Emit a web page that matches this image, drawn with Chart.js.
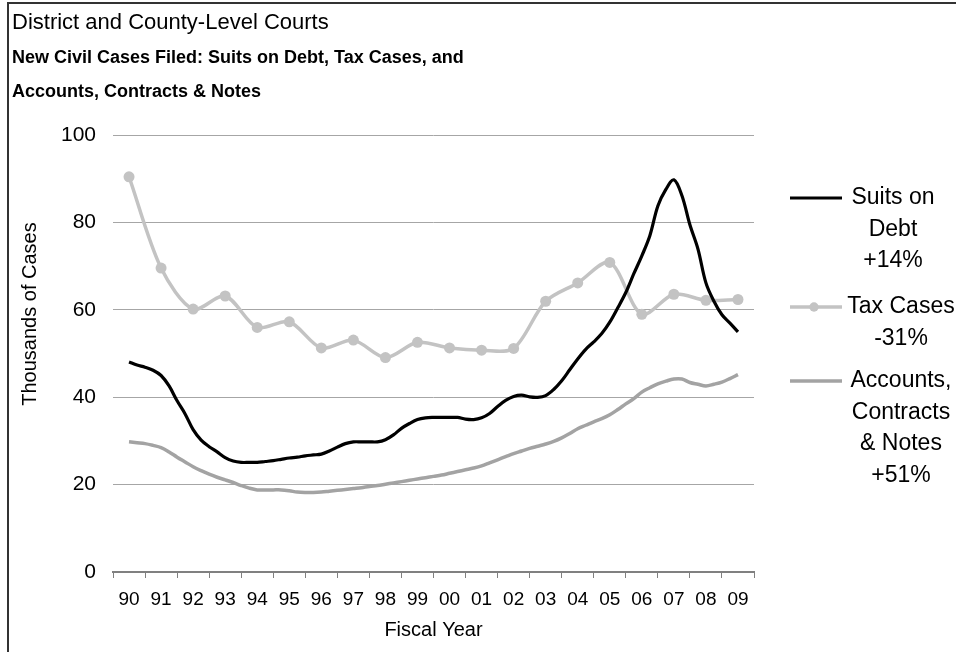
<!DOCTYPE html>
<html><head><meta charset="utf-8">
<script src="https://cdn.jsdelivr.net/npm/chart.js@4.4.1/dist/chart.umd.min.js"></script>
<style>
html,body{margin:0;padding:0;background:#fff;}
#wrap{position:relative;width:956px;height:652px;overflow:hidden;background:#fff;}
#frame{position:absolute;left:7px;top:2px;right:-4px;bottom:-4px;border-left:2px solid #333;border-top:2px solid #333;pointer-events:none;}
</style></head><body>
<div id="wrap"><canvas id="c" width="956" height="652"></canvas><div id="frame"></div></div>
<script>
const FONT = "'Liberation Sans', Arial, Helvetica, sans-serif";

const fiscalYears = ['90','91','92','93','94','95','96','97','98','99','00','01','02','03','04','05','06','07','08','09'];

// Quarterly readings (FY90 Q1 ... FY09 Q1), thousands of cases
const suitsOnDebt = [
  48.1,47.4,46.9,46.2, 45.0,42.6,39.2,36.2, 32.6,30.2,28.7,27.5, 26.2,25.4,25.1,25.1,
  25.1,25.3,25.5,25.8, 26.1,26.3,26.6,26.8, 27.0,27.7,28.6,29.4, 29.8,29.8,29.8,29.8,
  30.3,31.4,32.9,34.0, 34.9,35.3,35.4,35.4, 35.4,35.4,35.0,34.9, 35.3,36.3,37.9,39.3,
  40.2,40.5,40.1,40.0, 40.4,41.8,43.8,46.3, 48.8,51.0,52.7,54.6, 57.2,60.5,64.0,68.3,
  72.4,77.0,83.8,87.6, 89.8,86.2,79.5,74.0, 66.2,62.0,58.9,57.0, 55.0
];
const accountsContractsNotes = [
  29.8,29.6,29.4,29.0, 28.5,27.5,26.3,25.2, 24.1,23.2,22.4,21.7, 21.1,20.5,19.8,19.2,
  18.8,18.8,18.8,18.8, 18.6,18.3,18.2,18.2, 18.3,18.5,18.7,18.9, 19.1,19.3,19.6,19.8,
  20.1,20.4,20.7,21.0, 21.3,21.6,21.9,22.2, 22.6,23.0,23.4,23.8, 24.3,25.0,25.7,26.4,
  27.1,27.7,28.3,28.8, 29.3,29.9,30.7,31.7, 32.8,33.6,34.4,35.1, 36.0,37.2,38.5,39.7,
  41.2,42.2,43.1,43.7, 44.2,44.2,43.4,43.0, 42.6,43.0,43.5,44.3, 45.2
];
// Annual readings
const taxCases = [90.5,69.6,60.2,63.2,56.0,57.3,51.3,53.1,49.1,52.6,51.3,50.8,51.2,62.0,66.2,70.9,59.0,63.6,62.2,62.4];

const yTicks = [0,20,40,60,80,100];
const seriesNames = ['Suits on Debt','Tax Cases','Accounts, Contracts & Notes'];
const legendLines = [['Suits on','Debt','+14%'],['Tax Cases','-31%'],['Accounts,','Contracts','& Notes','+51%']];

Chart.defaults.font.family = FONT;
Chart.defaults.color = '#000';

const quarterly = arr => arr.map((v,i)=>({x:i/4, y:v}));
const annual = arr => arr.map((v,i)=>({x:i, y:v}));

const legendPlugin = {
  id: 'sideLegend',
  afterDraw(chart){
    const ctx = chart.ctx;
    const ds = chart.data.datasets;
    const slots = [{y:198, cx:893},{y:307, cx:901},{y:381, cx:901}];
    const gap = 31.5;
    ctx.save();
    ds.forEach((d,i)=>{
      const s = slots[i];
      ctx.strokeStyle = d.borderColor;
      ctx.lineWidth = d.borderWidth;
      ctx.beginPath(); ctx.moveTo(790, s.y); ctx.lineTo(842, s.y); ctx.stroke();
      if (d.pointRadius > 0){
        ctx.fillStyle = d.pointBackgroundColor;
        ctx.beginPath(); ctx.arc(814, s.y, d.pointRadius*0.85, 0, Math.PI*2); ctx.fill();
      }
      ctx.fillStyle = '#000';
      ctx.font = '23px ' + FONT;
      ctx.textAlign = 'center';
      ctx.textBaseline = 'middle';
      legendLines[i].forEach((t,k)=> ctx.fillText(t, s.cx, s.y + k*gap));
    });
    // y-axis title
    ctx.translate(30, 314);
    ctx.rotate(-Math.PI/2);
    ctx.font = '20px ' + FONT;
    ctx.textAlign = 'center';
    ctx.textBaseline = 'middle';
    ctx.fillText('Thousands of Cases', 0, 0);
    ctx.restore();
  }
};

new Chart(document.getElementById('c'), {
  type: 'line',
  data: {
    labels: fiscalYears,
    datasets: [
      {label: seriesNames[0], data: quarterly(suitsOnDebt), xAxisID:'xl', borderColor:'#000000', borderWidth:3.2, pointRadius:0, tension:0.35, fill:false},
      {label: seriesNames[1], data: annual(taxCases), xAxisID:'xl', borderColor:'#c3c3c3', backgroundColor:'#c3c3c3', pointBackgroundColor:'#c3c3c3', pointBorderWidth:0, borderWidth:3.5, pointRadius:5.5, tension:0.3, fill:false},
      {label: seriesNames[2], data: quarterly(accountsContractsNotes), xAxisID:'xl', borderColor:'#a3a3a3', borderWidth:3.5, pointRadius:0, tension:0.35, fill:false}
    ]
  },
  options: {
    responsive: false,
    devicePixelRatio: 1,
    animation: false,
    layout: {padding: {left: 12, right: 202, top: 0, bottom: 0}},
    plugins: {
      legend: {display: false},
      tooltip: {enabled: false},
      title: {display: true, text: 'District and County-Level Courts', align: 'start', color:'#000',
              font: {size: 22, weight: 'normal', lineHeight: 1.15}, padding: {top: 10, bottom: 0}},
      subtitle: {display: true, text: ['New Civil Cases Filed: Suits on Debt, Tax Cases, and', 'Accounts, Contracts & Notes'],
              align: 'start', color:'#000', font: {size: 18, weight: 'bold', lineHeight: 34/18}, padding: {top: 6, bottom: 26}}
    },
    scales: {
      x: {
        type: 'category', position: 'bottom', offset: true,
        grid: {offset: true, drawOnChartArea: false, drawTicks: true, tickLength: 6, color: '#808080', lineWidth: 1},
        border: {display: true, color: '#808080', width: 2},
        ticks: {padding: 10, font: {size: 19}, color: '#000', autoSkip: false, maxRotation: 0},
        title: {display: true, text: 'Fiscal Year', font: {size: 20}, color: '#000', padding: {top: 0, bottom: 10}},
        afterFit: s => { s.height = 80; }
      },
      xl: {type: 'linear', position: 'bottom', display: false, min: -0.5, max: 19.5},
      y: {
        min: 0, max: 100,
        afterBuildTicks: s => { s.ticks = yTicks.map(v=>({value:v})); },
        grid: {color: c => c.tick && c.tick.value === 0 ? 'rgba(0,0,0,0)' : '#a6a6a6', lineWidth: 1, drawTicks: false},
        border: {display: false},
        ticks: {padding: 17, font: {size: 21}, color: '#000'},
        afterFit: s => { s.width = 101; }
      }
    }
  },
  plugins: [legendPlugin]
});
</script>
</body></html>
